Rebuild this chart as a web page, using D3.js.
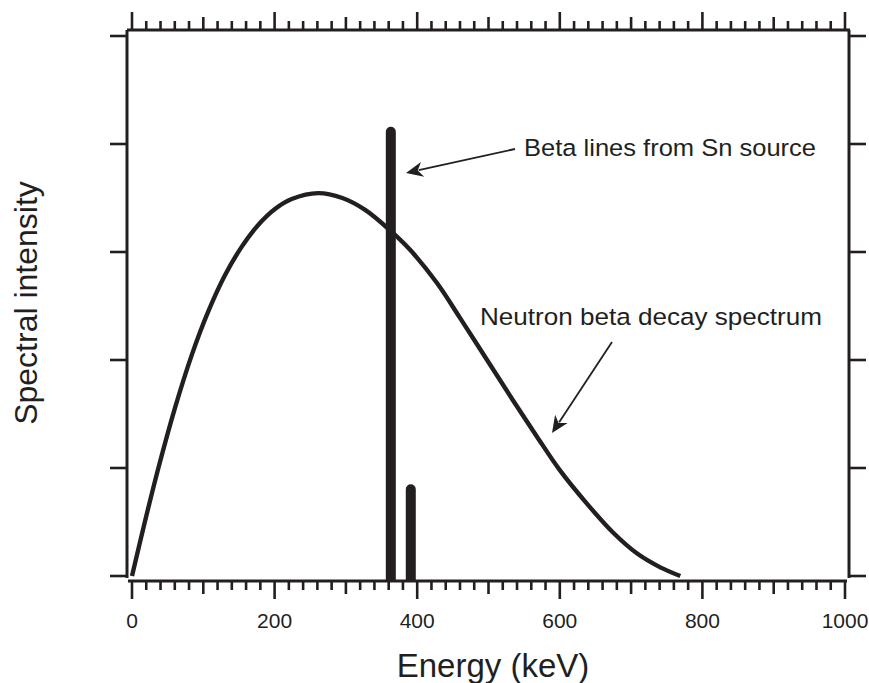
<!DOCTYPE html>
<html>
<head>
<meta charset="utf-8">
<script src="https://cdn.jsdelivr.net/npm/d3@7"></script>
<style>
  html, body { margin: 0; padding: 0; background: #fff; }
  svg { display: block; }
  text { font-family: "Liberation Sans", Arial, Helvetica, sans-serif; fill: #231f20; }
</style>
</head>
<body>
<svg id="chart" width="869" height="683"></svg>
<script>
// ---- data ----
const spectrumEnergy = [0, 18, 37, 60, 84, 107, 130, 154, 177, 201, 224, 261, 295, 327, 362, 390, 428, 460, 498, 534, 568, 600, 638, 675, 708, 741, 769];
const spectrumIntensity = [0, 0.50, 1.00, 1.55, 2.05, 2.45, 2.78, 3.05, 3.25, 3.40, 3.49, 3.545, 3.50, 3.39, 3.20, 3.02, 2.71, 2.39, 2.00, 1.63, 1.29, 0.98, 0.67, 0.40, 0.21, 0.08, 0];
const lineEnergy = [363, 391];
const lineIntensity = [4.16, 0.85];
const xTickLabels = [0, 200, 400, 600, 800, 1000];
const yTickValues = [0, 1, 2, 3, 4, 5];
const xLabel = "Energy (keV)";
const yLabel = "Spectral intensity";
const annotations = [
  { text: "Beta lines from Sn source", x: 524, y: 156, len: 292, from: [515, 149], to: [406, 173] },
  { text: "Neutron beta decay spectrum", x: 480, y: 325, len: 342, from: [612, 342], to: [552, 433] }
];

const ink = "#231f20";
const svg = d3.select("#chart");

const x = d3.scaleLinear().domain([0, 1000]).range([132, 845]);
const y = d3.scaleLinear().domain([0, 5]).range([576, 36]);

const frameL = 127, frameR = 849, frameT = 30, bottomAxisY = 581;

// frame lines
svg.append("line").attr("x1", frameL).attr("x2", frameR + 1).attr("y1", frameT).attr("y2", frameT)
  .attr("stroke", ink).attr("stroke-width", 3);
svg.append("line").attr("x1", frameL).attr("x2", frameL).attr("y1", frameT).attr("y2", 578)
  .attr("stroke", ink).attr("stroke-width", 3);
svg.append("line").attr("x1", frameR).attr("x2", frameR).attr("y1", frameT).attr("y2", 578)
  .attr("stroke", ink).attr("stroke-width", 3);
svg.append("line").attr("x1", frameL + 1).attr("x2", 847).attr("y1", bottomAxisY).attr("y2", bottomAxisY)
  .attr("stroke", ink).attr("stroke-width", 3);

// x ticks (top and bottom)
const xMinor = d3.range(0, 1001, 20);
function tickLen(v) { return v % 200 === 0 ? 18 : (v % 100 === 0 ? 13 : 9); }
svg.append("g").selectAll("line").data(xMinor).join("line")
  .attr("x1", d => x(d)).attr("x2", d => x(d))
  .attr("y1", bottomAxisY).attr("y2", d => bottomAxisY + tickLen(d))
  .attr("stroke", ink).attr("stroke-width", 2.6);
svg.append("g").selectAll("line").data(xMinor).join("line")
  .attr("x1", d => x(d)).attr("x2", d => x(d))
  .attr("y1", frameT).attr("y2", d => frameT - tickLen(d))
  .attr("stroke", ink).attr("stroke-width", 2.6);

// x tick labels
svg.append("g").selectAll("text").data(xTickLabels).join("text")
  .attr("x", d => x(d)).attr("y", 628)
  .attr("text-anchor", "middle").attr("font-size", 21)
  .text(d => d);

// y ticks (left and right, outward)
svg.append("g").selectAll("line").data(yTickValues).join("line")
  .attr("x1", frameL - 17).attr("x2", frameL)
  .attr("y1", d => y(d)).attr("y2", d => y(d))
  .attr("stroke", ink).attr("stroke-width", 2.6);
svg.append("g").selectAll("line").data(yTickValues).join("line")
  .attr("x1", frameR).attr("x2", frameR + 17)
  .attr("y1", d => y(d)).attr("y2", d => y(d))
  .attr("stroke", ink).attr("stroke-width", 2.6);

// spectrum curve
const pts = spectrumEnergy.map((e, i) => [e, spectrumIntensity[i]]);
const line = d3.line().x(d => x(d[0])).y(d => y(d[1])).curve(d3.curveCatmullRom.alpha(0.5));
svg.append("path").datum(pts).attr("d", line)
  .attr("fill", "none").attr("stroke", ink).attr("stroke-width", 4.4)
  .attr("stroke-linecap", "butt");

// Sn beta lines (bars with rounded top)
const barW = 10;
svg.append("g").selectAll("path").data(lineEnergy.map((e, i) => [e, lineIntensity[i]])).join("path")
  .attr("d", d => {
    const cx = x(d[0]), r = barW / 2, yt = y(d[1]) + r, yb = bottomAxisY;
    return `M${cx - r},${yb} L${cx - r},${yt} A${r},${r} 0 0 1 ${cx + r},${yt} L${cx + r},${yb} Z`;
  })
  .attr("fill", ink);

// annotations with arrows
annotations.forEach(a => {
  svg.append("text").attr("x", a.x).attr("y", a.y).attr("font-size", 24.5)
    .attr("textLength", a.len).attr("lengthAdjust", "spacingAndGlyphs").text(a.text);
  const [x1, y1] = a.from, [x2, y2] = a.to;
  const ang = Math.atan2(y2 - y1, x2 - x1);
  const headL = 17, headW = 7.5;
  const bx = x2 - headL * Math.cos(ang), by = y2 - headL * Math.sin(ang);
  svg.append("line").attr("x1", x1).attr("y1", y1).attr("x2", bx + 4 * Math.cos(ang)).attr("y2", by + 4 * Math.sin(ang))
    .attr("stroke", ink).attr("stroke-width", 1.8);
  const px = -Math.sin(ang), py = Math.cos(ang);
  const notch = 5;
  const nx = x2 - (headL - notch) * Math.cos(ang), ny = y2 - (headL - notch) * Math.sin(ang);
  svg.append("path")
    .attr("d", `M${x2},${y2} L${bx + headW * px},${by + headW * py} L${nx},${ny} L${bx - headW * px},${by - headW * py} Z`)
    .attr("fill", ink);
});

// axis labels
svg.append("text").attr("x", 493).attr("y", 677).attr("text-anchor", "middle")
  .attr("font-size", 33).text(xLabel);
svg.append("text").attr("transform", "translate(37,303) rotate(-90)").attr("text-anchor", "middle")
  .attr("font-size", 32).text(yLabel);
</script>
</body>
</html>
